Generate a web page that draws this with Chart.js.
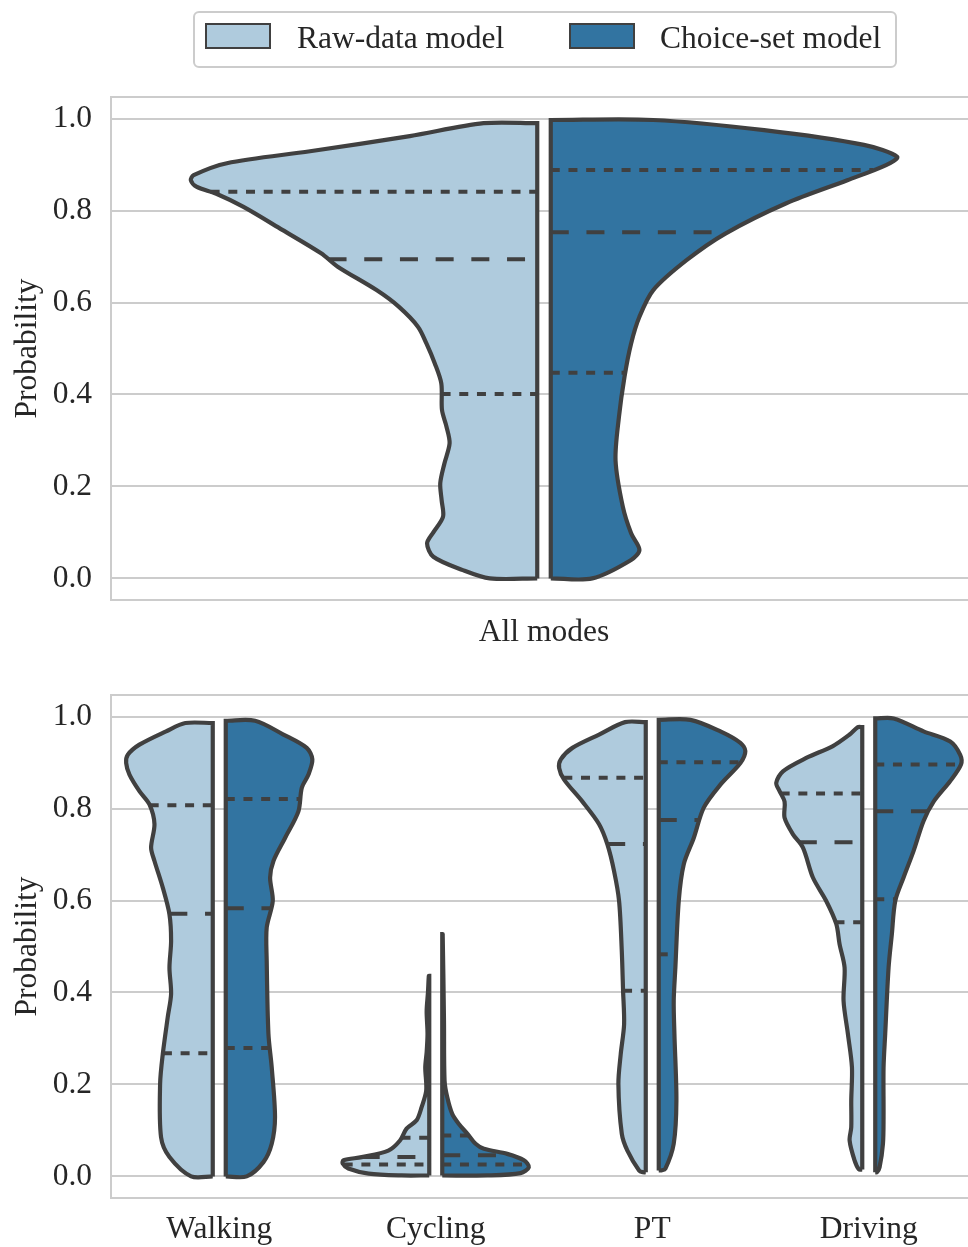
<!DOCTYPE html>
<html>
<head>
<meta charset="utf-8">
<script src="https://cdn.jsdelivr.net/npm/chart.js@4/dist/chart.umd.min.js"></script>
<style>
  html, body { margin: 0; padding: 0; overflow: hidden; background: #ffffff; width: 968px; height: 1247px; }
  #wrap { position: relative; width: 980px; height: 1247px; }
  canvas { display: block; }
</style>
</head>
<body>
<div id="wrap">
  <canvas id="overall" width="980" height="655"></canvas>
  <canvas id="bymode" width="980" height="592"></canvas>
</div>
<script>
// ---- series, categories, ticks ----
const seriesNames = ['Raw-data model', 'Choice-set model'];
const seriesColors = ['#afcbdd', '#3274a1'];
const overallLabels = ['All modes'];
const modes = ['Walking', 'Cycling', 'PT', 'Driving'];
const yTickValues = [0, 0.2, 0.4, 0.6, 0.8, 1.0];

// ---- density outlines: probability levels (bottom to top) and half-widths (share of widest point) ----
const allRawY = [0.000, 0.018, 0.047, 0.076, 0.100, 0.134, 0.170, 0.207, 0.250, 0.294, 0.330, 0.366, 0.424, 0.468, 0.511, 0.547, 0.591, 0.627, 0.678, 0.707, 0.758, 0.808, 0.837, 0.852, 0.866, 0.877, 0.903, 0.929, 0.962, 0.990];
const allRawW = [0.137, 0.215, 0.300, 0.318, 0.300, 0.272, 0.276, 0.280, 0.268, 0.253, 0.262, 0.275, 0.277, 0.296, 0.320, 0.344, 0.400, 0.464, 0.576, 0.624, 0.736, 0.848, 0.928, 0.984, 1.000, 0.992, 0.896, 0.656, 0.368, 0.155];
const allChoiceY = [0.000, 0.040, 0.062, 0.098, 0.156, 0.257, 0.352, 0.439, 0.511, 0.569, 0.627, 0.692, 0.750, 0.816, 0.866, 0.899, 0.917, 0.943, 0.975, 0.997];
const allChoiceW = [0.120, 0.232, 0.256, 0.232, 0.208, 0.187, 0.197, 0.213, 0.232, 0.256, 0.296, 0.392, 0.504, 0.680, 0.856, 0.968, 1.000, 0.904, 0.616, 0.296];

const rawModeY = [
  [0.000, 0.042, 0.085, 0.201, 0.266, 0.346, 0.397, 0.454, 0.512, 0.570, 0.628, 0.686, 0.715, 0.766, 0.809, 0.838, 0.874, 0.899, 0.917, 0.939, 0.968, 0.986],
  [0.002, 0.006, 0.017, 0.028, 0.035, 0.042, 0.056, 0.078, 0.104, 0.122, 0.150, 0.187, 0.237, 0.270, 0.310, 0.360, 0.400, 0.436],
  [0.009, 0.013, 0.056, 0.093, 0.201, 0.266, 0.331, 0.404, 0.491, 0.599, 0.664, 0.722, 0.766, 0.815, 0.863, 0.888, 0.907, 0.932, 0.961, 0.988],
  [0.015, 0.035, 0.078, 0.107, 0.165, 0.237, 0.310, 0.382, 0.454, 0.505, 0.549, 0.599, 0.650, 0.715, 0.744, 0.780, 0.815, 0.838, 0.856, 0.881, 0.910, 0.936, 0.961, 0.977]
];
const rawModeW = [
  [0.250, 0.500, 0.597, 0.608, 0.577, 0.520, 0.481, 0.500, 0.481, 0.500, 0.577, 0.673, 0.712, 0.673, 0.731, 0.847, 0.962, 1.000, 0.981, 0.847, 0.539, 0.316],
  [0.320, 0.700, 0.935, 1.000, 0.990, 0.780, 0.473, 0.338, 0.262, 0.146, 0.089, 0.035, 0.046, 0.030, 0.020, 0.030, 0.015, 0.005],
  [0.030, 0.077, 0.212, 0.277, 0.316, 0.289, 0.250, 0.262, 0.277, 0.308, 0.366, 0.443, 0.539, 0.731, 0.943, 1.000, 0.981, 0.847, 0.539, 0.239],
  [0.038, 0.089, 0.146, 0.127, 0.127, 0.119, 0.166, 0.216, 0.204, 0.262, 0.300, 0.416, 0.570, 0.685, 0.800, 0.897, 0.897, 0.955, 0.993, 0.916, 0.647, 0.339, 0.146, 0.050]
];
const choiceModeY = [
  [0.000, 0.031, 0.071, 0.129, 0.237, 0.310, 0.469, 0.541, 0.599, 0.650, 0.686, 0.736, 0.794, 0.845, 0.874, 0.907, 0.932, 0.961, 0.991],
  [0.002, 0.007, 0.020, 0.035, 0.049, 0.060, 0.071, 0.093, 0.114, 0.136, 0.172, 0.208, 0.339, 0.527],
  [0.013, 0.017, 0.071, 0.165, 0.310, 0.382, 0.454, 0.599, 0.679, 0.736, 0.802, 0.852, 0.899, 0.925, 0.943, 0.968, 0.993],
  [0.009, 0.020, 0.071, 0.129, 0.237, 0.310, 0.454, 0.527, 0.599, 0.650, 0.708, 0.773, 0.815, 0.860, 0.896, 0.917, 0.946, 0.968, 0.996]
];
const choiceModeW = [
  [0.242, 0.435, 0.531, 0.569, 0.531, 0.493, 0.473, 0.473, 0.543, 0.512, 0.551, 0.685, 0.839, 0.878, 0.955, 1.000, 0.935, 0.666, 0.339],
  [0.520, 0.904, 1.000, 0.943, 0.750, 0.481, 0.385, 0.289, 0.192, 0.115, 0.058, 0.027, 0.020, 0.005],
  [0.027, 0.077, 0.173, 0.204, 0.181, 0.173, 0.192, 0.231, 0.289, 0.404, 0.520, 0.712, 0.943, 1.000, 0.943, 0.712, 0.366],
  [0.020, 0.050, 0.089, 0.096, 0.096, 0.115, 0.154, 0.192, 0.231, 0.327, 0.443, 0.558, 0.674, 0.866, 0.990, 0.981, 0.866, 0.558, 0.212]
];

// ---- quartiles [Q1, median, Q3] ----
const allRawQ = [0.401, 0.694, 0.841];
const allChoiceQ = [0.447, 0.753, 0.888];
const rawModeQ = [[0.268, 0.571, 0.807], [0.026, 0.042, 0.084], [0.404, 0.723, 0.867], [0.553, 0.727, 0.833]];
const choiceModeQ = [[0.279, 0.583, 0.821], [0.026, 0.046, 0.089], [0.483, 0.775, 0.901], [0.603, 0.794, 0.896]];

// ---- styling ----
const OUTLINE = '#404040';
const TEXT = '#262626';
const GRID = '#cccccc';
const HALF = 0.4;              // widest half-violin, in category units
const DASH = [18, 17.7];       // median
const DOT = [9, 8.7];          // quartiles
const FONT = '"Liberation Serif", "Times New Roman", serif';

Chart.defaults.font.family = FONT;
Chart.defaults.font.size = 31.5;
Chart.defaults.color = TEXT;

function widthAt(ys, ws, v) {
  if (v <= ys[0]) return ws[0];
  for (let i = 1; i < ys.length; i++) {
    if (v <= ys[i]) {
      const t = (v - ys[i - 1]) / (ys[i] - ys[i - 1]);
      return ws[i - 1] + t * (ws[i] - ws[i - 1]);
    }
  }
  return ws[ws.length - 1];
}

// One half of a split violin as a closed outline; corners at the inner edge are doubled to stay square
function halfViolin(center, side, gap, ys, ws, color) {
  const inner = center + side * gap;
  const lo = ys[0], hi = ys[ys.length - 1];
  const pts = [{ x: inner, y: lo }];
  ys.forEach((y, i) => pts.push({ x: inner + side * HALF * ws[i], y }));
  pts.push({ x: inner, y: hi }, { x: inner, y: hi }, { x: inner, y: lo }, { x: inner, y: lo });
  return {
    data: pts, order: 1, fill: 'shape',
    backgroundColor: color, borderColor: OUTLINE, borderWidth: 4.2,
    borderJoinStyle: 'miter', tension: 0.3, pointRadius: 0
  };
}

function quartileLines(center, side, gap, ys, ws, q) {
  const inner = center + side * gap;
  return q.map((v, k) => {
    const outer = inner + side * HALF * widthAt(ys, ws, v);
    return {
      data: [{ x: Math.min(inner, outer), y: v }, { x: Math.max(inner, outer), y: v }],
      order: 0, fill: false, borderColor: OUTLINE, borderWidth: 4,
      borderDash: k === 1 ? DASH : DOT, borderCapStyle: 'butt', pointRadius: 0, tension: 0
    };
  });
}

function buildDatasets(count, rY, rW, rQ, cY, cW, cQ, gap) {
  const shapes = [], lines = [];
  for (let i = 0; i < count; i++) {
    shapes.push(halfViolin(i, -1, gap, rY[i], rW[i], seriesColors[0]));
    shapes.push(halfViolin(i, 1, gap, cY[i], cW[i], seriesColors[1]));
    lines.push(...quartileLines(i, -1, gap, rY[i], rW[i], rQ[i]));
    lines.push(...quartileLines(i, 1, gap, cY[i], cW[i], cQ[i]));
  }
  return lines.concat(shapes);
}

// Light frame on the top, left and bottom of the plotting area
const framePlugin = {
  id: 'frame',
  beforeDatasetsDraw(chart) {
    const { ctx, chartArea: a } = chart;
    ctx.save();
    ctx.strokeStyle = GRID;
    ctx.lineWidth = 2;
    ctx.beginPath();
    ctx.moveTo(a.right + 10, a.top);
    ctx.lineTo(a.left, a.top);
    ctx.lineTo(a.left, a.bottom);
    ctx.lineTo(a.right + 10, a.bottom);
    ctx.stroke();
    ctx.restore();
  }
};

// Boxed legend above the first panel
const legendPlugin = {
  id: 'boxLegend',
  afterDraw(chart) {
    const ctx = chart.ctx;
    ctx.save();
    const bx = 194, by = 12, bw = 702, bh = 55, r = 5;
    ctx.beginPath();
    ctx.moveTo(bx + r, by);
    ctx.arcTo(bx + bw, by, bx + bw, by + bh, r);
    ctx.arcTo(bx + bw, by + bh, bx, by + bh, r);
    ctx.arcTo(bx, by + bh, bx, by, r);
    ctx.arcTo(bx, by, bx + bw, by, r);
    ctx.closePath();
    ctx.fillStyle = '#ffffff';
    ctx.fill();
    ctx.strokeStyle = GRID;
    ctx.lineWidth = 2;
    ctx.stroke();
    const patchX = [206, 570];
    const textX = [297, 660];
    seriesNames.forEach((name, i) => {
      ctx.fillStyle = seriesColors[i];
      ctx.fillRect(patchX[i], 24, 64, 24);
      ctx.strokeStyle = OUTLINE;
      ctx.lineWidth = 2;
      ctx.strokeRect(patchX[i], 24, 64, 24);
      ctx.fillStyle = TEXT;
      ctx.font = '31.5px ' + FONT;
      ctx.textAlign = 'left';
      ctx.textBaseline = 'alphabetic';
      ctx.fillText(name, textX[i], 48);
    });
    ctx.restore();
  }
};

function makeOptions(labels, padTop, xHeight, tickPad) {
  return {
    responsive: false,
    animation: false,
    events: [],
    layout: { padding: { top: padTop, right: 3, left: 0, bottom: 0 } },
    plugins: { legend: { display: false }, tooltip: { enabled: false } },
    scales: {
      x: {
        type: 'linear', min: -0.5, max: labels.length - 0.5,
        grid: { display: false, drawTicks: false },
        border: { display: false },
        afterBuildTicks: s => { s.ticks = labels.map((_, i) => ({ value: i })); },
        afterFit: s => { s.height = xHeight; },
        ticks: {
          autoSkip: false, maxRotation: 0, minRotation: 0, padding: tickPad,
          callback: v => labels[Math.round(v)]
        }
      },
      y: {
        type: 'linear', min: -0.047, max: 1.047,
        afterBuildTicks: s => { s.ticks = yTickValues.map(v => ({ value: v })); },
        afterFit: s => { s.width = 111; },
        grid: { color: GRID, lineWidth: 2, drawTicks: false },
        border: { display: false },
        ticks: { padding: 19, callback: v => Number(v).toFixed(1) },
        title: { display: true, text: 'Probability', padding: { top: 9, bottom: 0 } }
      }
    }
  };
}

new Chart(document.getElementById('overall'), {
  type: 'line',
  data: { datasets: buildDatasets(1, [allRawY], [allRawW], [allRawQ], [allChoiceY], [allChoiceW], [allChoiceQ], 0.0078) },
  options: makeOptions(overallLabels, 97, 55, 14),
  plugins: [framePlugin, legendPlugin]
});

new Chart(document.getElementById('bymode'), {
  type: 'line',
  data: { datasets: buildDatasets(modes.length, rawModeY, rawModeW, rawModeQ, choiceModeY, choiceModeW, choiceModeQ, 0.030) },
  options: makeOptions(modes, 40, 49, 13),
  plugins: [framePlugin]
});
</script>
</body>
</html>
